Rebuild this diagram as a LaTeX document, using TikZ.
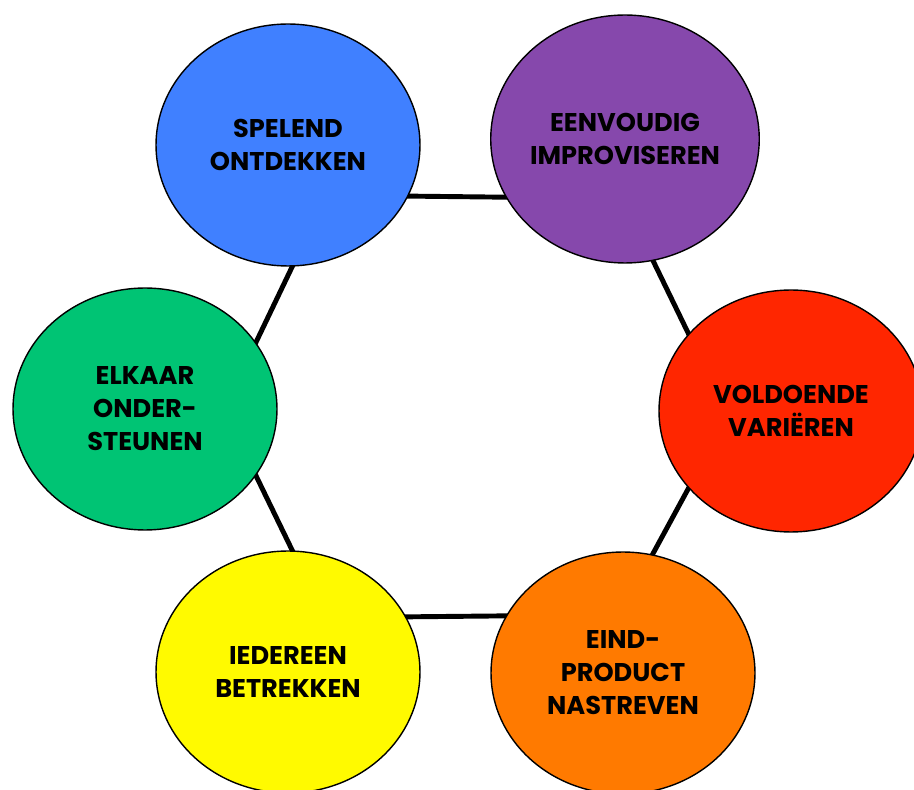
\documentclass[tikz,border=0pt]{standalone}
\usepackage{fontspec}
\setmainfont{Poppins}
\usepackage{tikz}
\usetikzlibrary{shapes.geometric, backgrounds}
\definecolor{cblue}{RGB}{64,128,255}
\definecolor{cpurple}{RGB}{134,72,172}
\definecolor{cred}{RGB}{255,38,0}
\definecolor{corange}{RGB}{255,122,0}
\definecolor{cyellow}{RGB}{255,250,0}
\definecolor{cgreen}{RGB}{0,196,116}
\tikzstyle{bubble} = [ellipse, draw=black, line width=0.8pt, inner sep=0pt, minimum width=5.28cm, minimum height=4.84cm, align=center, font=\bfseries\fontsize{14.6}{18.8}\selectfont]
\tikzstyle{link} = [line width=2.8pt, shorten <=-3pt, shorten >=-3pt]

\begin{document}
\begin{tikzpicture}[x=0.02cm, y=-0.02cm]
  \useasboundingbox (0,0) rectangle (914,790);

  % Six bubbles round a hexagon
  \node[bubble, fill=cblue] (sp) at (288,145) {SPELEND\\ONTDEKKEN};
  \node[bubble, fill=cpurple, minimum height=4.96cm] (ee) at (625,139) {EENVOUDIG\\IMPROVISEREN};
  \node[bubble, fill=cred] (vo) at (791,411) {VOLDOENDE\\VARIËREN};
  \node[bubble, fill=corange] (ep) at (623,673) {EIND-\\PRODUCT\\NASTREVEN};
  \node[bubble, fill=cyellow] (ie) at (288,672) {IEDEREEN\\BETREKKEN};
  \node[bubble, fill=cgreen] (el) at (145,409) {ELKAAR\\ONDER-\\STEUNEN};

  % Hexagon edges behind the bubbles
  \begin{scope}[on background layer]
    \draw[link] (sp.-23.6) -- (ee.-154);
    \draw[link] (ee.-77.2) -- (vo.143.3);
    \draw[link] (vo.-143.6) -- (ep.76.4);
    \draw[link] (ep.154.4) -- (ie.25.1);
    \draw[link] (ie.88.6) -- (el.-31);
    \draw[link] (el.31.8) -- (sp.-88.6);
  \end{scope}
\end{tikzpicture}
\end{document}
